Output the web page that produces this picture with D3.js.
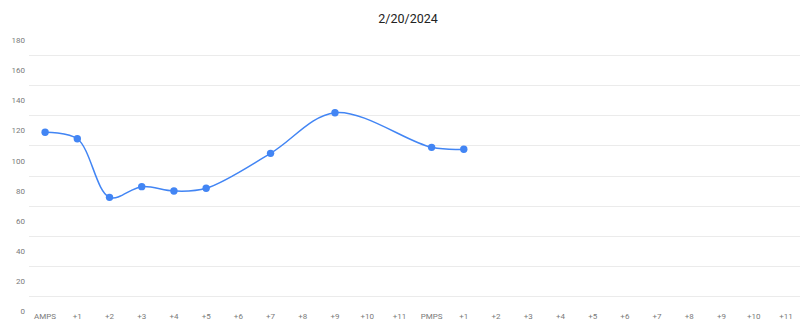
<!DOCTYPE html>
<html>
<head>
<meta charset="utf-8">
<script src="https://cdn.jsdelivr.net/npm/d3@7"></script>
<style>
  html, body { margin: 0; padding: 0; background: #fff; }
  svg { display: block; font-family: Roboto, "Noto Sans", Arial, sans-serif; }
</style>
</head>
<body>
<svg id="chart" width="800" height="334"></svg>
<script>
const title = "2/20/2024";
const categories = ["AMPS","+1","+2","+3","+4","+5","+6","+7","+8","+9","+10","+11",
                    "PMPS","+1 ","+2 ","+3 ","+4 ","+5 ","+6 ","+7 ","+8 ","+9 ","+10 ","+11 "];
const values = [118.7, 114.4, 75.5, 82.6, 79.7, 81.5, null, 104.7, null, 131.7, null, null,
                108.7, 107.4, null, null, null, null, null, null, null, null, null, null];
const yTicks = [0, 20, 40, 60, 80, 100, 120, 140, 160, 180];

const svg = d3.select("#chart");
const W = 800, H = 334;

const x = d3.scaleBand().domain(categories).range([29, 802]);
const cx = d => x(d) + x.bandwidth() / 2;
const y = d3.scaleLinear().domain([0, 180]).range([311, 40]);

// title
svg.append("text")
  .attr("x", 408).attr("y", 23)
  .attr("text-anchor", "middle")
  .attr("font-size", 12.5)
  .attr("fill", "#222")
  .text(title);

// gridlines (drawn midway between labelled ticks, as in the reference)
const gridVals = yTicks.slice(1).map((t, i) => (t + yTicks[i]) / 2);
svg.append("g").selectAll("line").data(gridVals).join("line")
  .attr("x1", 29).attr("x2", W)
  .attr("y1", d => Math.round(y(d)) + 0.5).attr("y2", d => Math.round(y(d)) + 0.5)
  .attr("stroke", "#ebebeb").attr("stroke-width", 1);

// y axis labels
const yAxis = d3.axisLeft(y).tickValues(yTicks).tickSize(0).tickPadding(0);
const gy = svg.append("g").attr("transform", "translate(25,0)").call(yAxis);
gy.select(".domain").remove();
gy.selectAll("text").attr("font-size", 8).attr("fill", "#7a7a7a")
  .attr("font-family", "Roboto, 'Noto Sans', Arial, sans-serif");

// x axis labels
const xAxis = d3.axisBottom(x).tickSize(0).tickPadding(0).tickFormat(d => d.trim());
const gx = svg.append("g").attr("transform", "translate(0,313)").call(xAxis);
gx.select(".domain").remove();
gx.selectAll("text").attr("font-size", 8).attr("fill", "#7a7a7a")
  .attr("font-family", "Roboto, 'Noto Sans', Arial, sans-serif");

// line
const pts = categories.map((c, i) => ({c, v: values[i]})).filter(d => d.v != null);
const line = d3.line()
  .x(d => cx(d.c)).y(d => y(d.v))
  .curve(d3.curveCatmullRom.alpha(0.5));
svg.append("path").datum(pts)
  .attr("d", line)
  .attr("fill", "none")
  .attr("stroke", "#4285f4")
  .attr("stroke-width", 1.5);

svg.append("g").selectAll("circle").data(pts).join("circle")
  .attr("cx", d => cx(d.c)).attr("cy", d => y(d.v))
  .attr("r", 3.7)
  .attr("fill", "#4285f4");
</script>
</body>
</html>
